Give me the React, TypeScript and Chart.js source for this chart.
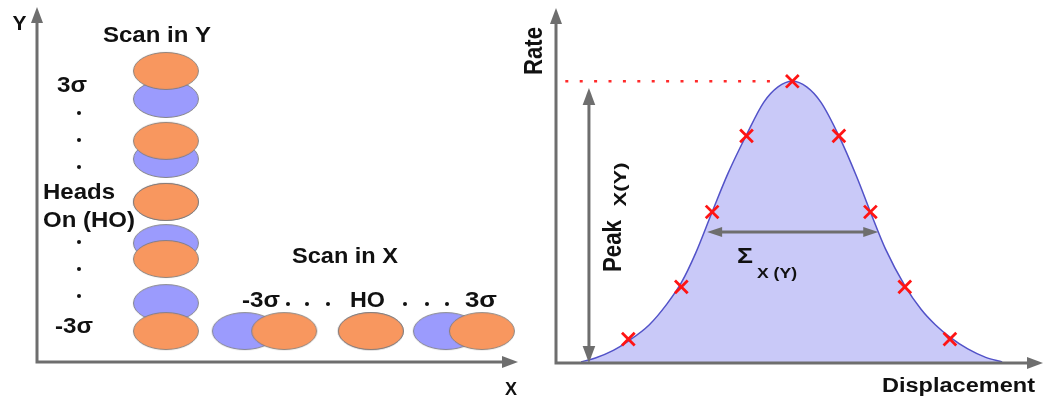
import React, { useEffect, useRef } from "react";
import { Chart, registerables } from "chart.js";

Chart.register(...registerables);

// ---------------- Left panel: beam centres in a 0–100 transverse plane ----------------
const yScanBeamX = [26.8, 26.8, 26.8, 26.8, 26.8];
const yScanBeam1Y = [82.0, 62.3, 45.1, 29.0, 8.7]; // orange beam
const yScanBeam2Y = [74.1, 57.2, 45.1, 33.5, 16.6]; // blue beam
const xScanBeamY = [8.7, 8.7, 8.7];
const xScanBeam1X = [51.4, 69.4, 92.5]; // orange beam
const xScanBeam2X = [43.2, 69.4, 85.0]; // blue beam
const yStepLabels = ["3σ", "Heads", "On (HO)", "-3σ"];
const xStepLabels = ["-3σ", "HO", "3σ"];

// ---------------- Right panel: rate vs displacement ----------------
const displacement = [
  -2.95, -2.75, -2.5, -2.29, -2.0, -1.75, -1.55, -1.35, -1.12, -0.9, -0.64, -0.4, -0.2, 0,
  0.2, 0.4, 0.65, 0.9, 1.09, 1.3, 1.57, 1.8, 2.0, 2.2, 2.45, 2.7, 2.93,
];
const rate = [
  0.004, 0.018, 0.045, 0.078, 0.135, 0.21, 0.285, 0.39, 0.536, 0.672, 0.81, 0.925, 0.98, 1.0,
  0.98, 0.925, 0.806, 0.66, 0.536, 0.405, 0.275, 0.19, 0.135, 0.092, 0.05, 0.02, 0.004,
];
const scanDisplacement = [-2.29, -1.55, -1.12, -0.64, 0, 0.65, 1.09, 1.57, 2.2];
const scanRate = [0.085, 0.27, 0.536, 0.806, 1.0, 0.806, 0.536, 0.27, 0.085];
const peakRate = 1.0;
const peakLineFrom = -3.17;
const peakLineTo = -0.22;
const peakArrowX = -2.84;
const peakArrowTop = 0.976;
const sigmaLevel = 0.465;
const sigmaFrom = -1.19;
const sigmaTo = 1.2;

const AXIS = "#6e6e6e";
const TEXT = "#111111";
const FONT = '"Liberation Sans", Arial, sans-serif';

type Lbl = {
  text: string;
  x: number;
  y: number;
  size: number;
  w: number;
  rot?: boolean;
  sy?: number;
  weight?: string;
};

function drawText(ctx: CanvasRenderingContext2D, t: Lbl) {
  ctx.save();
  ctx.font = `${t.weight ?? "bold"} ${t.size}px ${FONT}`;
  ctx.fillStyle = TEXT;
  ctx.textAlign = "center";
  ctx.textBaseline = "alphabetic";
  const m = ctx.measureText(t.text).width;
  ctx.translate(t.x, t.y);
  if (t.rot) ctx.rotate(-Math.PI / 2);
  ctx.scale(t.w / m, t.sy ?? 1);
  ctx.fillText(t.text, 0, 0);
  ctx.restore();
}

function head(
  ctx: CanvasRenderingContext2D,
  tx: number,
  ty: number,
  dx: number,
  dy: number,
  len: number,
  half: number
) {
  const bx = tx - dx * len;
  const by = ty - dy * len;
  ctx.beginPath();
  ctx.moveTo(tx, ty);
  ctx.lineTo(bx - dy * half, by + dx * half);
  ctx.lineTo(bx + dy * half, by - dx * half);
  ctx.closePath();
  ctx.fill();
}

function drawAxes(ctx: CanvasRenderingContext2D, a: any) {
  ctx.save();
  ctx.strokeStyle = AXIS;
  ctx.fillStyle = AXIS;
  ctx.lineWidth = 3;
  ctx.lineJoin = "miter";
  ctx.beginPath();
  ctx.moveTo(a.left, a.top + 14);
  ctx.lineTo(a.left, a.bottom);
  ctx.lineTo(a.right - 14, a.bottom);
  ctx.stroke();
  head(ctx, a.left, a.top, 0, -1, 16, 6);
  head(ctx, a.right, a.bottom, 1, 0, 16, 6);
  ctx.restore();
}

function doubleArrow(
  ctx: CanvasRenderingContext2D,
  x1: number,
  y1: number,
  x2: number,
  y2: number,
  len: number,
  half: number
) {
  const L = Math.hypot(x2 - x1, y2 - y1);
  const dx = (x2 - x1) / L;
  const dy = (y2 - y1) / L;
  ctx.save();
  ctx.strokeStyle = AXIS;
  ctx.fillStyle = AXIS;
  ctx.lineWidth = 3;
  ctx.beginPath();
  ctx.moveTo(x1 + dx * (len - 2), y1 + dy * (len - 2));
  ctx.lineTo(x2 - dx * (len - 2), y2 - dy * (len - 2));
  ctx.stroke();
  head(ctx, x2, y2, dx, dy, len, half);
  head(ctx, x1, y1, -dx, -dy, len, half);
  ctx.restore();
}

function makeEllipse(fill: string): HTMLCanvasElement {
  const c = document.createElement("canvas");
  c.width = 68;
  c.height = 40;
  const g = c.getContext("2d")!;
  g.beginPath();
  g.ellipse(34, 20, 32.5, 18.5, 0, 0, Math.PI * 2);
  g.fillStyle = fill;
  g.fill();
  g.lineWidth = 1;
  g.strokeStyle = "rgba(120,120,120,0.85)";
  g.stroke();
  return c;
}

const leftLabels: Lbl[] = [
  { text: "Y", x: 19.5, y: 30, size: 21, w: 14 },
  { text: "X", x: 511, y: 395, size: 19, w: 12 },
  { text: "Scan in Y", x: 157, y: 42, size: 22, w: 108 },
  { text: yStepLabels[0], x: 72, y: 92, size: 22, w: 30 },
  { text: yStepLabels[1], x: 79, y: 199, size: 22, w: 72 },
  { text: yStepLabels[2], x: 89, y: 227, size: 22, w: 92 },
  { text: yStepLabels[3], x: 74, y: 333, size: 22, w: 38 },
  { text: "Scan in X", x: 345, y: 263, size: 22, w: 106 },
  { text: xStepLabels[0], x: 261, y: 306.5, size: 22, w: 38 },
  { text: xStepLabels[1], x: 367.5, y: 306.5, size: 22, w: 35 },
  { text: xStepLabels[2], x: 481, y: 306.5, size: 22, w: 32 },
];
const leftDots: [number, number][] = [
  [79, 113], [79, 140], [79, 167], [79, 242], [79, 269], [79, 296],
  [288, 304], [307, 304], [328, 304], [405, 304], [427, 304], [447, 304],
];

const rightLabels: Lbl[] = [
  { text: "Rate", x: 22, y: 51, size: 22, w: 48, rot: true, sy: 1.2 },
  { text: "Peak", x: 101, y: 246, size: 22, w: 52, rot: true, sy: 1.2 },
  { text: "X(Y)", x: 106, y: 184.5, size: 15, w: 44, rot: true, sy: 1.15 },
  { text: "Σ", x: 225, y: 263, size: 22, w: 16 },
  { text: "X (Y)", x: 257, y: 277.5, size: 14, w: 40 },
  { text: "Displacement", x: 438.5, y: 392, size: 20, w: 153 },
];

const leftDecor = {
  id: "leftDecor",
  afterDatasetsDraw(chart: any) {
    const ctx = chart.ctx as CanvasRenderingContext2D;
    drawAxes(ctx, chart.chartArea);
    leftLabels.forEach((l) => drawText(ctx, l));
    ctx.save();
    ctx.fillStyle = TEXT;
    leftDots.forEach(([x, y]) => {
      ctx.beginPath();
      ctx.arc(x, y, 2, 0, Math.PI * 2);
      ctx.fill();
    });
    ctx.restore();
  },
};

const rightDecor = {
  id: "rightDecor",
  afterDatasetsDraw(chart: any) {
    const ctx = chart.ctx as CanvasRenderingContext2D;
    const xs = chart.scales.x;
    const ys = chart.scales.y;
    drawAxes(ctx, chart.chartArea);
    const px = xs.getPixelForValue(peakArrowX);
    doubleArrow(ctx, px, ys.getPixelForValue(0), px, ys.getPixelForValue(peakArrowTop), 17, 6.3);
    const sy = ys.getPixelForValue(sigmaLevel);
    doubleArrow(ctx, xs.getPixelForValue(sigmaFrom), sy, xs.getPixelForValue(sigmaTo), sy, 15, 5);
    rightLabels.forEach((l) => drawText(ctx, l));
  },
};

export default function App() {
  const leftRef = useRef<HTMLCanvasElement>(null);
  const rightRef = useRef<HTMLCanvasElement>(null);

  useEffect(() => {
    const orange = makeEllipse("#f8975f");
    const blue = makeEllipse("#9b9bfd");
    const noInteraction = {
      animation: false as const,
      responsive: false,
      devicePixelRatio: 1,
      events: [] as any[],
    };

    const left = new Chart(leftRef.current!, {
      type: "scatter",
      data: {
        datasets: [
          {
            label: "Beam 1 – scan in Y",
            data: yScanBeam1Y.map((y, i) => ({ x: yScanBeamX[i], y })),
            pointStyle: orange as any,
            pointRadius: 19,
          },
          {
            label: "Beam 1 – scan in X",
            data: xScanBeam1X.map((x, i) => ({ x, y: xScanBeamY[i] })),
            pointStyle: orange as any,
            pointRadius: 19,
          },
          {
            label: "Beam 2 – scan in Y",
            data: yScanBeam2Y.map((y, i) => ({ x: yScanBeamX[i], y })),
            pointStyle: blue as any,
            pointRadius: 19,
          },
          {
            label: "Beam 2 – scan in X",
            data: xScanBeam2X.map((x, i) => ({ x, y: xScanBeamY[i] })),
            pointStyle: blue as any,
            pointRadius: 19,
          },
        ],
      },
      options: {
        ...noInteraction,
        clip: false as any,
        layout: { autoPadding: false, padding: { left: 37, right: 2, top: 7, bottom: 36 } },
        plugins: { legend: { display: false }, tooltip: { enabled: false } },
        scales: {
          x: { type: "linear", min: 0, max: 100, display: false },
          y: { type: "linear", min: 0, max: 100, display: false },
        },
      },
      plugins: [leftDecor],
    });

    const right = new Chart(rightRef.current!, {
      type: "line",
      data: {
        datasets: [
          {
            label: "Scan points",
            data: scanDisplacement.map((x, i) => ({ x, y: scanRate[i] })),
            showLine: false,
            pointStyle: "crossRot",
            pointRadius: 9,
            pointBorderColor: "#ff1414",
            pointBorderWidth: 2.8,
            borderColor: "#ff1414",
          },
          {
            label: "Peak",
            data: [
              { x: peakLineFrom, y: peakRate },
              { x: peakLineTo, y: peakRate },
            ],
            borderColor: "#ff2a2a",
            borderWidth: 2.5,
            borderDash: [3, 11.4],
            pointRadius: 0,
          },
          {
            label: "Rate",
            data: displacement.map((x, i) => ({ x, y: rate[i] })),
            borderColor: "#5252c8",
            borderWidth: 1.5,
            backgroundColor: "#c9c9f8",
            fill: "origin",
            pointRadius: 0,
            cubicInterpolationMode: "monotone",
          },
        ],
      },
      options: {
        ...noInteraction,
        clip: false as any,
        layout: { autoPadding: false, padding: { left: 36, right: 2, top: 8, bottom: 35 } },
        plugins: { legend: { display: false }, tooltip: { enabled: false } },
        scales: {
          x: { type: "linear", min: -3.3, max: 3.5, display: false },
          y: { type: "linear", min: 0, max: 1.26, display: false },
        },
      },
      plugins: [rightDecor],
    });

    return () => {
      left.destroy();
      right.destroy();
    };
  }, []);

  return (
    <div
      style={{
        position: "fixed",
        left: 0,
        top: 0,
        width: 1045,
        height: 398,
        background: "#ffffff",
        overflow: "hidden",
      }}
    >
      <canvas
        ref={leftRef}
        width={520}
        height={398}
        style={{ position: "absolute", left: 0, top: 0, width: 520, height: 398 }}
      />
      <canvas
        ref={rightRef}
        width={525}
        height={398}
        style={{ position: "absolute", left: 520, top: 0, width: 525, height: 398 }}
      />
    </div>
  );
}
